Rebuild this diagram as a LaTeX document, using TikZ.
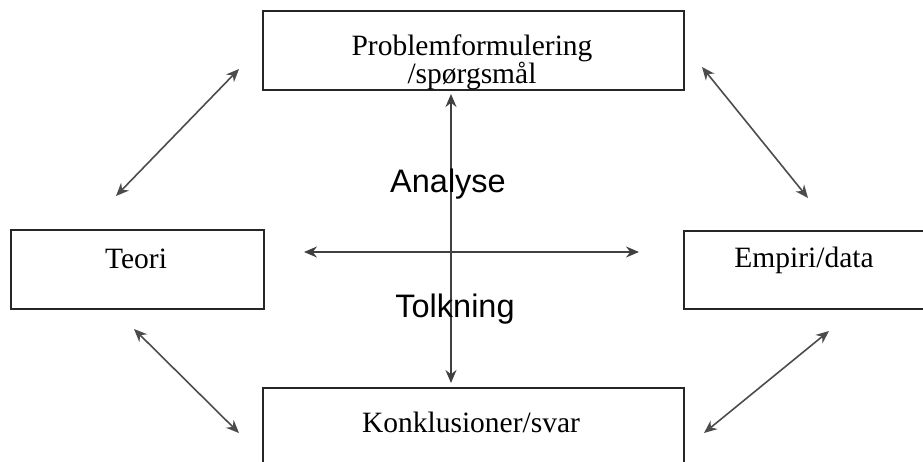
\documentclass[tikz,border=0pt]{standalone}
\usepackage{fontspec}
\setmainfont{Liberation Serif}
\newfontfamily\labelsans{Liberation Sans}
\usetikzlibrary{arrows.meta}
\begin{document}
\begin{tikzpicture}[x=1pt,y=-1pt,
  box/.style={draw=black!85, line width=2pt, inner sep=0pt, anchor=north west},
  boxtext/.style={anchor=base, inner sep=0pt, font=\fontsize{29.5}{29.5}\selectfont},
  axistext/.style={anchor=base, inner sep=0pt, font=\labelsans\fontsize{32.5}{32.5}\selectfont},
  tip/.style={},
  dbl/.style={{Stealth[length=13pt,width=11pt]}-{Stealth[length=13pt,width=11pt]}, line width=1.6pt, draw=black!70},
  axis/.style={{Stealth[length=13pt,width=11pt]}-{Stealth[length=13pt,width=11pt]}, line width=1.5pt, draw=black!75}]
\useasboundingbox (0,0) rectangle (923,461);
\clip (0,0) rectangle (923,461);
% boxes
\node[box, minimum width=421pt, minimum height=79pt] (prob) at (262,10) {};
\node[box, minimum width=253pt, minimum height=79pt] (teori) at (10,229) {};
\node[box, minimum width=260pt, minimum height=78pt] (empiri) at (683,230) {};
\node[box, minimum width=421pt, minimum height=100pt] (konk) at (262,387) {};
% box texts
\node[boxtext] (t1) at (472,55) {Problemformulering};
\node[boxtext] (t2) at (472,83) {/spørgsmål};
\node[boxtext] (t3) at (136,268) {Teori};
\node[boxtext] (t4) at (804,267) {Empiri/data};
\node[boxtext] (t5) at (471,432) {Konklusioner/svar};
% arrow end points
\coordinate (vtop) at (451,94);
\coordinate (vbot) at (451,383);
\coordinate (hl) at (304,252);
\coordinate (hr) at (639,252);
\coordinate (a1) at (116,196);
\coordinate (a2) at (239,69);
\coordinate (b1) at (702,67);
\coordinate (b2) at (808,198);
\coordinate (c1) at (134,329);
\coordinate (c2) at (239,433);
\coordinate (d1) at (829,331);
\coordinate (d2) at (704,433);
% cross
\draw[axis] (vbot) -- (vtop);
\draw[axis] (hl) -- (hr);
% diagonals
\draw[dbl] (a1) -- (a2);
\draw[dbl] (b1) -- (b2);
\draw[dbl] (c1) -- (c2);
\draw[dbl] (d1) -- (d2);
% axis labels
\node[axistext] (an) at (448,192) {Analyse};
\node[axistext] (to) at (455,317) {Tolkning};
\end{tikzpicture}
\end{document}
